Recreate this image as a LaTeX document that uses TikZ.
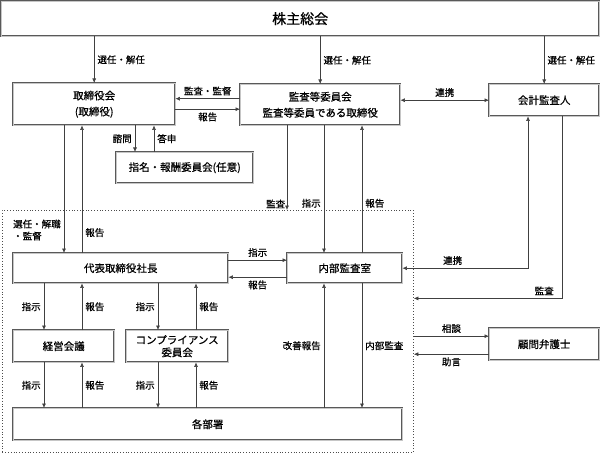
\documentclass[tikz,border=0pt]{standalone}
\usepackage{fontspec}
\setmainfont{Noto Sans CJK JP}[FakeBold=0.6]
\usetikzlibrary{arrows.meta}
\begin{document}
\begin{tikzpicture}[x=1pt,y=-1pt,>={Latex[length=4.5pt,width=4pt]},
    box/.style={draw=gray!70!black,double=gray!45,double distance=0.8pt,fill=white,anchor=north west,
      inner sep=0pt,align=center,font=\fontsize{10.5}{16}\selectfont},
    lbl/.style={font=\fontsize{9.5}{12}\selectfont,inner sep=3pt},
    conn/.style={draw=gray!50!black,line width=0.6pt}]
    \useasboundingbox (0,0) rectangle (601,454);
    \node[draw=gray!60!black,dotted,line width=0.8pt,minimum width=411,minimum height=242,anchor=north west,inner sep=0pt] (shikko) at (2,210) {};
    \node[box,minimum width=598,minimum height=35,font=\fontsize{14}{16}\selectfont] (soukai) at (1,1) {株主総会};
    \node[box,minimum width=162,minimum height=42] (torishimari) at (13,83) {取締役会\\(取締役)};
    \node[box,minimum width=160,minimum height=41] (kansa) at (240,84) {監査等委員会\\監査等委員である取締役};
    \node[box,minimum width=110,minimum height=32] (kaikei) at (489,84) {会計監査人};
    \node[box,minimum width=137,minimum height=31] (shimei) at (116,152) {指名・報酬委員会(任意)};
    \node[box,minimum width=215,minimum height=30] (daihyo) at (13,253) {代表取締役社長};
    \node[box,minimum width=115,minimum height=30] (naibu) at (287,253) {内部監査室};
    \node[box,minimum width=101,minimum height=32] (keiei) at (13,330) {経営会議};
    \node[box,minimum width=102,minimum height=32,font=\fontsize{10.5}{12.5}\selectfont] (comp) at (126,330) {コンプライアンス\\委員会};
    \node[box,minimum width=389,minimum height=32] (kakubu) at (13,408) {各部署};
    \node[box,minimum width=110,minimum height=32] (bengoshi) at (489,328) {顧問弁護士};
    % 株主総会から
    \draw[conn,->] (soukai.south -| torishimari.north) -- node[lbl,right]{選任・解任} (torishimari.north);
    \draw[conn,->] (soukai.south -| kansa.north) -- node[lbl,right]{選任・解任} (kansa.north);
    \draw[conn,->] (soukai.south -| kaikei.north) -- node[lbl,right]{選任・解任} (kaikei.north);
    % 取締役会と監査等委員会
    \draw[conn,->] ([yshift=6pt]kansa.west) -- node[lbl,above]{監査・監督} ([yshift=6pt]kansa.west -| torishimari.east);
    \draw[conn,->] ([yshift=-5pt]torishimari.east) -- node[lbl,below]{報告} ([yshift=-5pt]torishimari.east -| kansa.west);
    \draw[conn,<->] (kansa.east |- kaikei.west) -- node[lbl,above]{連携} (kaikei.west);
    \draw[conn,->] ([xshift=122pt]torishimari.south west) -- node[lbl,left]{諮問} ([xshift=122pt]torishimari.south west |- shimei.north);
    \draw[conn,->] ([xshift=141pt]torishimari.south west |- shimei.north) -- node[lbl,right]{答申} ([xshift=141pt]torishimari.south west);
    \draw[conn,->] ([xshift=51pt]torishimari.south west) -- node[lbl,left,pos=0.82,align=left]{選任・解職\\・監督} ([xshift=51pt]torishimari.south west |- daihyo.north);
    \draw[conn,->] ([xshift=69pt]torishimari.south west |- daihyo.north) -- node[lbl,right,pos=0.16]{報告} ([xshift=69pt]torishimari.south west);
    \draw[conn,->] ([xshift=47pt]kansa.south west) -- ([xshift=47pt]kansa.south west |- shikko.north) node[lbl,above left,inner sep=1.5pt]{監査};
    \draw[conn,->] ([xshift=84pt]kansa.south west) -- node[lbl,left,pos=0.61]{指示} ([xshift=84pt]kansa.south west |- naibu.north);
    \draw[conn,->] ([xshift=122pt]kansa.south west |- naibu.north) -- node[lbl,right,pos=0.39]{報告} ([xshift=122pt]kansa.south west);
    % 社長と内部監査室
    \draw[conn,->] ([yshift=8pt]daihyo.east) -- node[lbl,above]{指示} ([yshift=8pt]daihyo.east -| naibu.west);
    \draw[conn,->] ([yshift=-9pt]naibu.west) -- node[lbl,below]{報告} ([yshift=-9pt]naibu.west -| daihyo.east);
    \draw[conn,<->] ([xshift=39pt]kaikei.south west) |- node[lbl,above,pos=0.8]{連携} (naibu.east);
    \draw[conn,->] ([xshift=73pt]kaikei.south west) |- node[lbl,above,pos=0.56]{監査} ([yshift=33pt]shikko.east);
    \draw[conn,->] ([yshift=8pt]bengoshi.west -| shikko.east) -- node[lbl,above]{相談} ([yshift=8pt]bengoshi.west);
    \draw[conn,->] ([yshift=-10pt]bengoshi.west) -- node[lbl,below]{助言} ([yshift=-10pt]bengoshi.west -| shikko.east);
    % 指示・報告の組
    \foreach \a/\b/\x/\y in {daihyo/keiei/31/69, daihyo/comp/145/183, keiei/kakubu/31/69, comp/kakubu/145/183} {
      \draw[conn,->] ([xshift=\x pt]daihyo.south west |- \a.south) -- node[lbl,left]{指示} ([xshift=\x pt]daihyo.south west |- \b.north);
      \draw[conn,->] ([xshift=\y pt]daihyo.south west |- \b.north) -- node[lbl,right]{報告} ([xshift=\y pt]daihyo.south west |- \a.south);
    }
    \draw[conn,->] ([xshift=311pt]kakubu.north west) -- node[lbl,left]{改善報告} ([xshift=311pt]kakubu.north west |- naibu.south);
    \draw[conn,->] ([xshift=349pt]kakubu.north west |- naibu.south) -- node[lbl,right]{内部監査} ([xshift=349pt]kakubu.north west);
\end{tikzpicture}
\end{document}
